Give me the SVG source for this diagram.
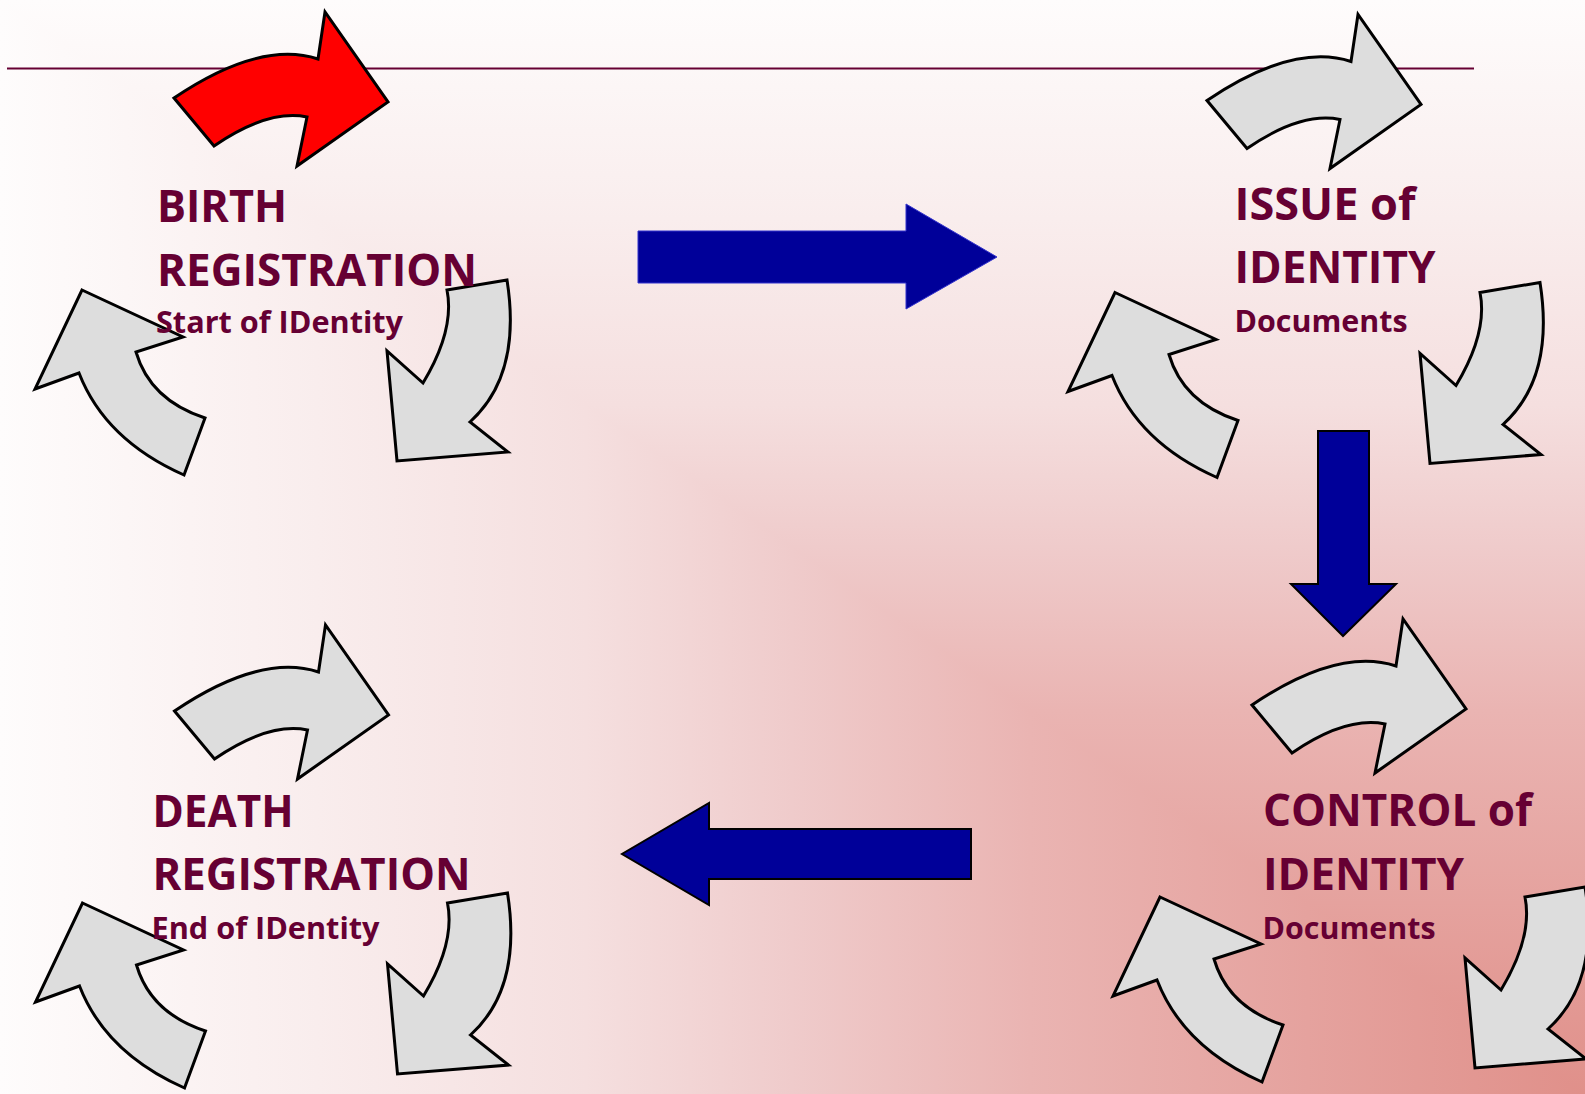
<svg xmlns="http://www.w3.org/2000/svg" width="1585" height="1094" viewBox="0 0 1585 1094">
  <defs>
    <linearGradient id="gV" gradientUnits="userSpaceOnUse" x1="0" y1="1094" x2="0" y2="0">
      <stop offset="0" stop-color="#e0908a"/>
      <stop offset="0.35" stop-color="#eab4b2"/>
      <stop offset="0.5" stop-color="#efcbcb"/>
      <stop offset="0.63" stop-color="#f5dfdf"/>
      <stop offset="0.8" stop-color="#f9eded"/>
      <stop offset="1" stop-color="#fefcfc"/>
    </linearGradient>
    <linearGradient id="gH" gradientUnits="userSpaceOnUse" x1="1585" y1="0" x2="0" y2="0">
      <stop offset="0" stop-color="#e0908a"/>
      <stop offset="0.35" stop-color="#eab4b2"/>
      <stop offset="0.5" stop-color="#efcbcb"/>
      <stop offset="0.63" stop-color="#f5dfdf"/>
      <stop offset="0.8" stop-color="#f9eded"/>
      <stop offset="1" stop-color="#fefcfc"/>
    </linearGradient>
    <path id="arcTop" d="M174,98 Q260,40 318,59 L325,12 L388,102 L297,166 L307,117 Q268,109 214,146 Z"/>
    <path id="arcRight" d="M447,290 L507,280 Q522,375 470,422 L508,452 L397,461 L387,351 L423,383 Q455,330 447,290 Z"/>
    <path id="arcLeft" d="M82,290 L183,337 L136,352 Q150,400 205,418 L184,475 Q105,440 79,373 L35,389 Z"/>
  </defs>
  <style>
    .cyc { fill: #dddddd; stroke: #000000; stroke-width: 3; stroke-linejoin: miter; }
    .red { fill: #ff0000; }
    .big { font-family: "Open Sans", "Noto Sans", "Liberation Sans", sans-serif; font-weight: 700; font-size: 45px; fill: #660033; }
    .sub { font-family: "Open Sans", "Noto Sans", "Liberation Sans", sans-serif; font-weight: 700; font-size: 31px; fill: #660033; }
    .blue { fill: #000099; stroke: #000000; stroke-width: 2; stroke-linejoin: miter; }
  </style>

  <!-- background (rectangular gradient from bottom-right corner) -->
  <rect x="0" y="0" width="1585" height="1094" fill="url(#gV)"/>
  <polygon points="0,0 1585,1094 0,1094" fill="url(#gH)"/>

  <!-- title rule -->
  <line x1="7" y1="68.5" x2="1474" y2="68.5" stroke="#660033" stroke-width="1.8"/>

  <g id="connectors">
    <polygon id="arrow-birth-issue" points="638,231 906,231 906,204 997,257 906,309 906,283 638,283" fill="#000099" stroke="#3333cc" stroke-width="1"/>
    <polygon id="arrow-issue-control" class="blue" points="1318,431 1369,431 1369,584 1396,584 1343,636 1291,584 1318,584"/>
    <polygon id="arrow-control-death" class="blue" points="971,829 971,879 709,879 709,905 622,854 709,803 709,829"/>
  </g>

  <g id="birth-registration">
    <use href="#arcTop" class="cyc red"/>
    <use href="#arcRight" class="cyc"/>
    <use href="#arcLeft" class="cyc"/>
    <text class="big" x="157" y="222" textLength="130" lengthAdjust="spacingAndGlyphs">BIRTH</text>
    <text class="big" x="157" y="286" textLength="320" lengthAdjust="spacingAndGlyphs">REGISTRATION</text>
    <text class="sub" x="156" y="333" textLength="247" lengthAdjust="spacingAndGlyphs">Start of IDentity</text>
  </g>

  <g id="issue-of-identity">
    <g transform="translate(1033,2.5)">
      <use href="#arcTop" class="cyc"/>
      <use href="#arcRight" class="cyc"/>
      <use href="#arcLeft" class="cyc"/>
    </g>
    <text class="big" x="1234.5" y="220" textLength="181" lengthAdjust="spacingAndGlyphs">ISSUE of</text>
    <text class="big" x="1234.5" y="283" textLength="201" lengthAdjust="spacingAndGlyphs">IDENTITY</text>
    <text class="sub" x="1234.5" y="331.5" textLength="173" lengthAdjust="spacingAndGlyphs">Documents</text>
  </g>

  <g id="control-of-identity">
    <g transform="translate(1078,607)">
      <use href="#arcTop" class="cyc"/>
      <use href="#arcRight" class="cyc"/>
      <use href="#arcLeft" class="cyc"/>
    </g>
    <text class="big" x="1263" y="826" textLength="269" lengthAdjust="spacingAndGlyphs">CONTROL of</text>
    <text class="big" x="1263" y="890" textLength="201" lengthAdjust="spacingAndGlyphs">IDENTITY</text>
    <text class="sub" x="1262.5" y="939" textLength="173" lengthAdjust="spacingAndGlyphs">Documents</text>
  </g>

  <g id="death-registration">
    <g transform="translate(0.5,613)">
      <use href="#arcTop" class="cyc"/>
      <use href="#arcRight" class="cyc"/>
      <use href="#arcLeft" class="cyc"/>
    </g>
    <text class="big" x="152.5" y="826.5" textLength="141" lengthAdjust="spacingAndGlyphs">DEATH</text>
    <text class="big" x="152.5" y="890" textLength="318" lengthAdjust="spacingAndGlyphs">REGISTRATION</text>
    <text class="sub" x="151.5" y="939" textLength="228" lengthAdjust="spacingAndGlyphs">End of IDentity</text>
  </g>
</svg>
